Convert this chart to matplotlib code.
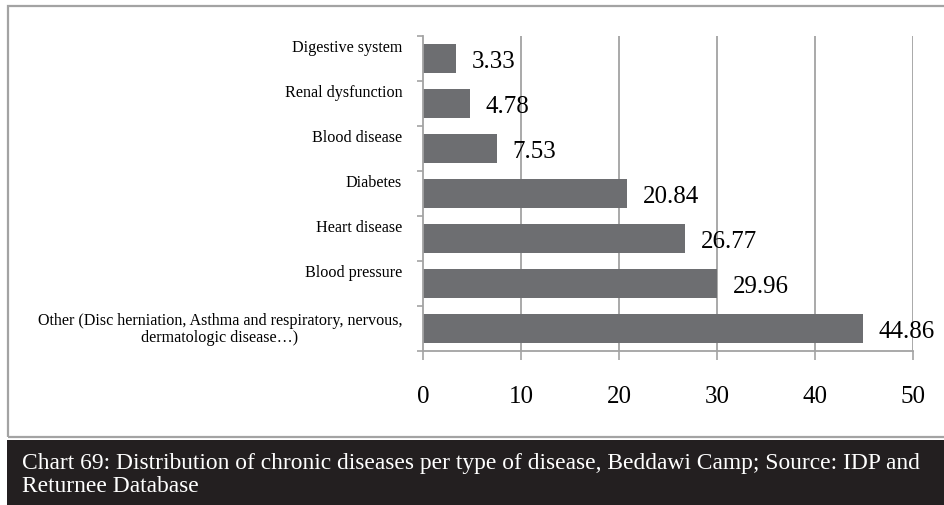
import matplotlib.pyplot as plt
from matplotlib.patches import Rectangle

# chronic disease shares (%) by type, Beddawi Camp
diseases = ['Digestive system', 'Renal dysfunction', 'Blood disease', 'Diabetes',
            'Heart disease', 'Blood pressure',
            'Other (Disc herniation, Asthma and respiratory, nervous,\ndermatologic disease\u2026)']
shares = [3.33, 4.78, 7.53, 20.84, 26.77, 29.96, 44.86]
x_ticks = [0, 10, 20, 30, 40, 50]
caption = ('Chart 69: Distribution of chronic diseases per type of disease, Beddawi Camp; '
           'Source: IDP and\nReturnee Database')

plt.rcParams['font.family'] = ['Liberation Serif', 'DejaVu Serif']

W, H = 945, 506
fig = plt.figure(figsize=(W / 100, H / 100), dpi=100)

grey = '#a3a3a3'
bar_col = '#6d6e71'
band_col = '#231f20'

# outer frame and caption band
fig.patches.append(Rectangle((8 / W, 1 - 438 / H), (W + 10) / W, (438 - 7) / H,
                             transform=fig.transFigure, fill=False,
                             ec=grey, lw=1.6, zorder=0))
fig.patches.append(Rectangle((7 / W, 0), 1, 1 - 441 / H,
                             transform=fig.transFigure, fc=band_col,
                             ec='none', zorder=0))
fig.text(22 / W, 1 - 453 / H, caption, color='white', fontsize=16.9,
         ha='left', va='top', linespacing=1.12)

ax = fig.add_axes([423 / W, 1 - 352 / H, 490 / W, 315 / H])
pos = list(range(len(diseases)))
ax.barh(pos, shares, height=0.64, color=bar_col, zorder=2)
ax.set_xlim(0, 50)
ax.set_ylim(len(diseases) - 0.5, -0.5)

ax.set_xticks(x_ticks)
ax.set_xticklabels([str(t) for t in x_ticks], fontsize=18)
ax.tick_params(axis='x', direction='out', length=6.5, width=1.2, color=grey, pad=18)
ax.set_yticks([p - 0.5 for p in pos] + [len(diseases) - 0.5])
ax.set_yticklabels([])
ax.tick_params(axis='y', direction='out', length=4, width=1.2, color=grey)

for p in x_ticks[1:]:
    ax.axvline(p, color=grey, lw=1.3, zorder=1)
for side in ['top', 'right']:
    ax.spines[side].set_visible(False)
for side in ['left', 'bottom']:
    ax.spines[side].set_color(grey)
    ax.spines[side].set_linewidth(1.3)

# single-line category labels sit in the top half of a two-line slot
ytr = ax.get_yaxis_transform()
for p, name in zip(pos, diseases):
    dy = 0 if '\n' in name else 8
    ax.annotate(name, xy=(0, p), xycoords=ytr, xytext=(-15, dy),
                textcoords='offset points', ha='right', va='center',
                fontsize=11.6, multialignment='center', linespacing=1.05)

# value labels
for p, v in zip(pos, shares):
    ax.annotate(f'{v:.2f}', xy=(v, p), xytext=(11.5, -2), textcoords='offset points',
                ha='left', va='center', fontsize=18, annotation_clip=False)

fig.savefig('out.png', dpi=100)
